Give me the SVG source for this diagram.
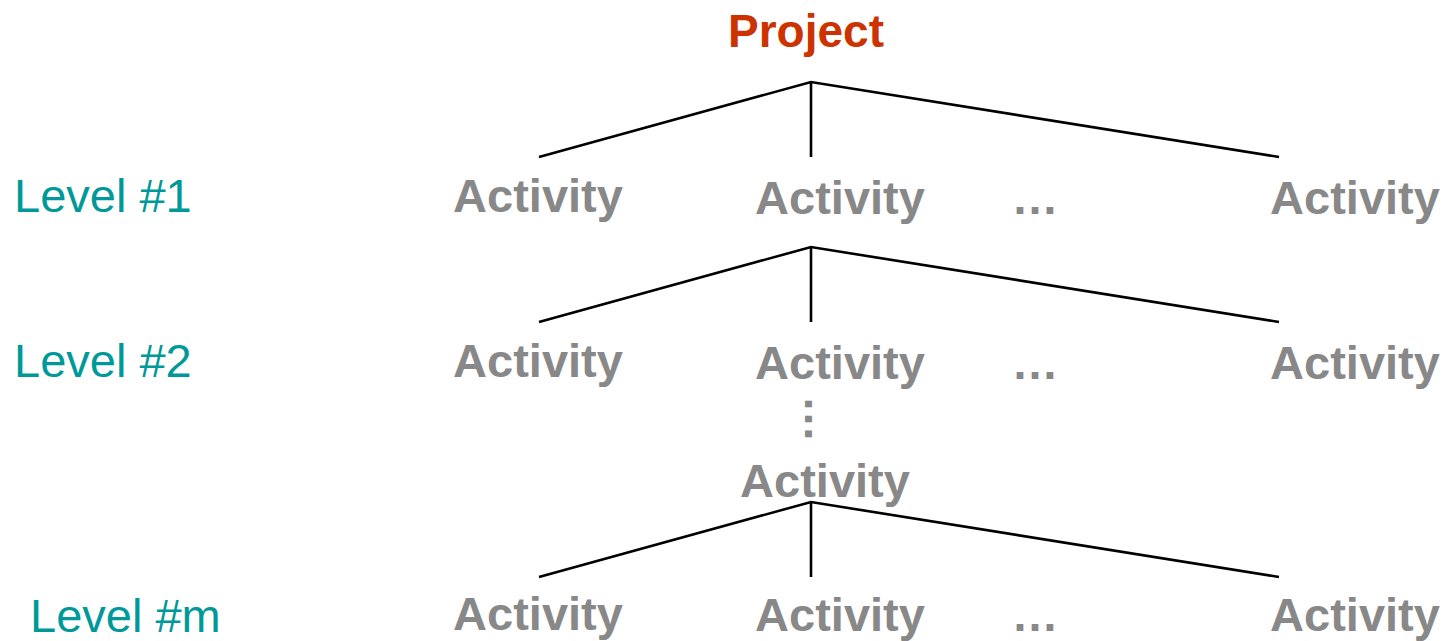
<svg xmlns="http://www.w3.org/2000/svg" width="1444" height="641" viewBox="0 0 1444 641">
<style>
.act{font-family:"Liberation Sans",Arial,sans-serif;font-weight:bold;font-size:47px;fill:#888888}
.lvl{font-family:"Liberation Sans",Arial,sans-serif;font-size:47px;fill:#009999}
.proj{font-family:"Liberation Sans",Arial,sans-serif;font-weight:bold;font-size:46px;fill:#CC3300}
.ln{stroke:#000;stroke-width:2.6;fill:none;stroke-linejoin:miter}
</style>
<rect width="1444" height="641" fill="#fff"/>
<g id="connectors">
<path class="ln" d="M539,157 L811,82 L1279,157 M811,82 L811,157"/>
<path class="ln" d="M539,322 L811,247 L1279,322 M811,247 L811,322"/>
<path class="ln" d="M539,577 L811,502 L1279,577 M811,502 L811,577"/>
</g>
<g id="project"><text class="proj" x="806" y="47" text-anchor="middle">Project</text></g>
<g id="level1"><text class="lvl" x="14" y="212">Level #1</text></g>
<g id="level2"><text class="lvl" x="14" y="377">Level #2</text></g>
<g id="levelm"><text class="lvl" x="30" y="632">Level #m</text></g>
<g id="a1-1"><text class="act" x="538" y="212" text-anchor="middle">Activity</text></g>
<g id="a1-2"><text class="act" x="840" y="214" text-anchor="middle">Activity</text></g>
<g id="a1-dots"><text class="act" x="1035" y="214" text-anchor="middle">…</text></g>
<g id="a1-n"><text class="act" x="1355" y="214" text-anchor="middle">Activity</text></g>
<g id="a2-1"><text class="act" x="538" y="377" text-anchor="middle">Activity</text></g>
<g id="a2-2"><text class="act" x="840" y="379" text-anchor="middle">Activity</text></g>
<g id="a2-dots"><text class="act" x="1035" y="379" text-anchor="middle">…</text></g>
<g id="a2-n"><text class="act" x="1355" y="379" text-anchor="middle">Activity</text></g>
<g id="vdots"><text class="act" x="0" y="0" text-anchor="middle" transform="translate(805,419) rotate(90)">…</text></g>
<g id="a3"><text class="act" x="825" y="497" text-anchor="middle">Activity</text></g>
<g id="am-1"><text class="act" x="538" y="630" text-anchor="middle">Activity</text></g>
<g id="am-2"><text class="act" x="840" y="631" text-anchor="middle">Activity</text></g>
<g id="am-dots"><text class="act" x="1035" y="631" text-anchor="middle">…</text></g>
<g id="am-n"><text class="act" x="1355" y="631" text-anchor="middle">Activity</text></g>
</svg>
